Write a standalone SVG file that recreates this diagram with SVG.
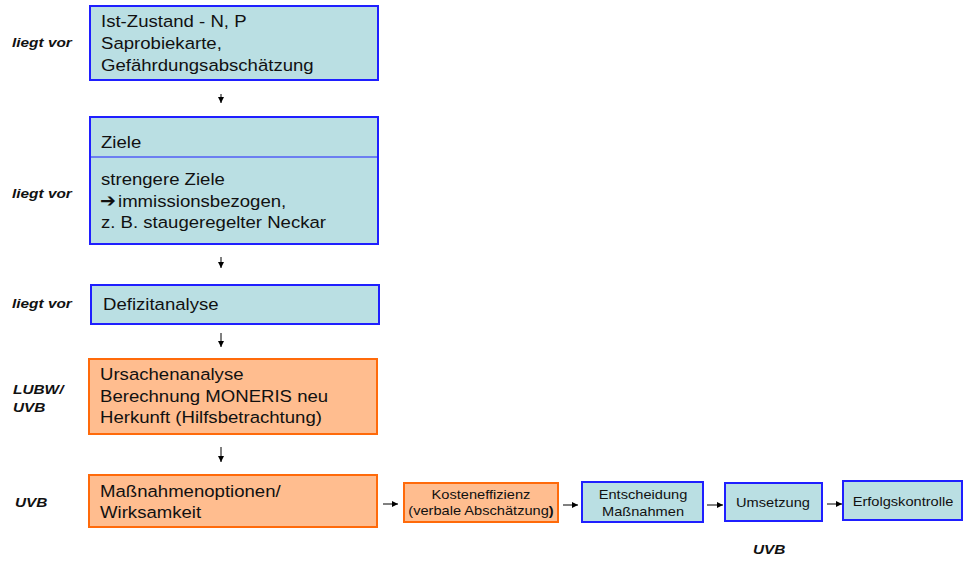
<svg xmlns="http://www.w3.org/2000/svg" width="968" height="563" viewBox="0 0 968 563">
<defs>
<style>
.blue{fill:#BADFE3;stroke:#1F1FFF;stroke-width:2}
.orange{fill:#FFBD8F;stroke:#FF6A0A;stroke-width:2}
.t{font-family:"Liberation Sans",Arial,sans-serif;font-size:16.3px;fill:#111}
.s{font-family:"Liberation Sans",Arial,sans-serif;font-size:12.5px;fill:#111;text-anchor:middle}
.lab{font-family:"Liberation Sans",Arial,sans-serif;font-size:13.5px;font-weight:bold;font-style:italic;fill:#111}
.c{stroke:#000;stroke-width:1;fill:none}
</style>
<marker id="ah" markerUnits="userSpaceOnUse" markerWidth="7" markerHeight="6" refX="6" refY="3" orient="auto">
<path d="M0,0 L6,3 L0,6 z" fill="#000"/>
</marker>
</defs>
<rect width="968" height="563" fill="#fff"/>

<g id="labels">
<text class="lab" transform="translate(12,47) scale(1.14,1)">liegt vor</text>
<text class="lab" transform="translate(12,198) scale(1.14,1)">liegt vor</text>
<text class="lab" transform="translate(12,308) scale(1.14,1)">liegt vor</text>
<text class="lab" transform="translate(13,394) scale(1.14,1)">LUBW/</text>
<text class="lab" transform="translate(13,412) scale(1.14,1)">UVB</text>
<text class="lab" transform="translate(15,507) scale(1.14,1)">UVB</text>
<text class="lab" transform="translate(753,554) scale(1.14,1)">UVB</text>
</g>

<g id="n1">
<rect class="blue" x="90" y="6" width="288" height="74"/>
<text class="t" transform="translate(101,27) scale(1.14,1)">Ist-Zustand - N, P</text>
<text class="t" transform="translate(101,49) scale(1.14,1)">Saprobiekarte,</text>
<text class="t" transform="translate(101,71) scale(1.14,1)">Gefährdungsabschätzung</text>
</g>

<g id="n2">
<rect class="blue" x="90" y="117" width="288" height="127"/>
<line x1="90" y1="157" x2="378" y2="157" stroke="#1F1FFF" stroke-width="1"/>
<text class="t" transform="translate(101,148) scale(1.14,1)">Ziele</text>
<text class="t" transform="translate(101,185) scale(1.14,1)">strengere Ziele</text>
<text transform="translate(100,207)" style="font-family:'DejaVu Sans',sans-serif;font-weight:bold;font-size:19px;fill:#111">➔</text>
<text class="t" transform="translate(118,207) scale(1.14,1)">immissionsbezogen,</text>
<text class="t" transform="translate(101,228) scale(1.14,1)">z. B. staugeregelter Neckar</text>
</g>

<g id="n3">
<rect class="blue" x="91" y="285" width="288" height="39"/>
<text class="t" transform="translate(103,310) scale(1.14,1)">Defizitanalyse</text>
</g>

<g id="n4">
<rect class="orange" x="89" y="359" width="288" height="75"/>
<text class="t" transform="translate(100,380) scale(1.14,1)">Ursachenanalyse</text>
<text class="t" transform="translate(100,402) scale(1.14,1)">Berechnung MONERIS neu</text>
<text class="t" transform="translate(100,423) scale(1.14,1)">Herkunft (Hilfsbetrachtung)</text>
</g>

<g id="n5">
<rect class="orange" x="89" y="475" width="288" height="52"/>
<text class="t" transform="translate(100,497) scale(1.14,1)">Maßnahmenoptionen/</text>
<text class="t" transform="translate(100,518) scale(1.14,1)">Wirksamkeit</text>
</g>

<g id="n6">
<rect class="orange" x="404" y="483" width="154" height="39"/>
<text class="s" transform="translate(481,499) scale(1.17,1)">Kosteneffizienz</text>
<text class="s" transform="translate(481,515) scale(1.17,1)">(verbale Abschätzung<tspan font-weight="bold">)</tspan></text>
</g>

<g id="n7">
<rect class="blue" x="582" y="482" width="121" height="40"/>
<text class="s" transform="translate(643,499) scale(1.17,1)">Entscheidung</text>
<text class="s" transform="translate(643,516) scale(1.17,1)">Maßnahmen</text>
</g>

<g id="n8">
<rect class="blue" x="725" y="483" width="97" height="38"/>
<text class="s" transform="translate(773,507) scale(1.17,1)">Umsetzung</text>
</g>

<g id="n9">
<rect class="blue" x="843" y="481" width="119" height="39"/>
<text class="s" transform="translate(903,506) scale(1.17,1)">Erfolgskontrolle</text>
</g>

<g id="connectors">
<line class="c" x1="221" y1="94" x2="221" y2="103" marker-end="url(#ah)"/>
<line class="c" x1="221" y1="257" x2="221" y2="268" marker-end="url(#ah)"/>
<line class="c" x1="221" y1="333" x2="221" y2="347" marker-end="url(#ah)"/>
<line class="c" x1="221" y1="447" x2="221" y2="462" marker-end="url(#ah)"/>
<line class="c" x1="383" y1="504" x2="398" y2="504" marker-end="url(#ah)"/>
<line class="c" x1="563" y1="505" x2="578" y2="505" marker-end="url(#ah)"/>
<line class="c" x1="707" y1="505" x2="723" y2="505" marker-end="url(#ah)"/>
<line class="c" x1="827" y1="504" x2="842" y2="504" marker-end="url(#ah)"/>
</g>
</svg>
